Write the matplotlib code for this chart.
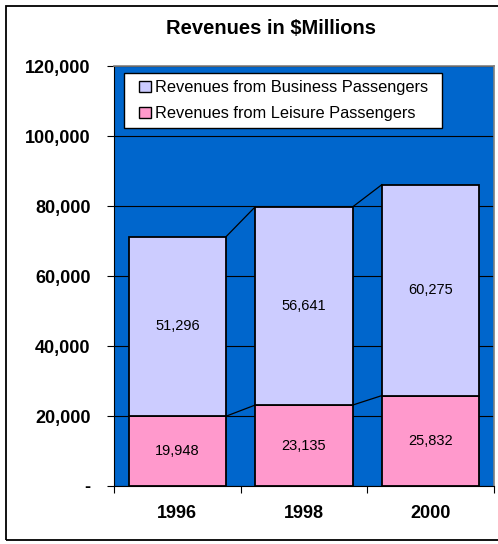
# Stacked revenue columns, business vs leisure passengers
import numpy as np
import matplotlib.pyplot as plt
from matplotlib.patches import Rectangle
from matplotlib.ticker import FuncFormatter

plt.rcParams['font.family'] = ['Liberation Sans', 'DejaVu Sans']

# data
years = ['1996', '1998', '2000']
leisure = [19948, 23135, 25832]
business = [51296, 56641, 60275]
series_names = ['Revenues from Business Passengers', 'Revenues from Leisure Passengers']

pink = '#FF99CC'
lavender = '#CCCCFF'
blue = '#0066CC'

fig = plt.figure(figsize=(4.98, 5.44), dpi=100)
ax = fig.add_axes([114/498, 1 - 486/544, 380/498, 420/544])
ax.set_facecolor(blue)

x = np.arange(len(years))
w = 0.77
leisure = np.array(leisure)
business = np.array(business)
total = leisure + business

b1 = ax.bar(x, leisure, width=w, color=pink, edgecolor='black', linewidth=1.3, zorder=3)
b2 = ax.bar(x, business, width=w, bottom=leisure, color=lavender, edgecolor='black',
            linewidth=1.3, zorder=3)

# series lines between the columns
for tops in (leisure, total):
    for i in range(len(x) - 1):
        ax.plot([x[i] + w/2, x[i+1] - w/2], [tops[i], tops[i+1]], color='black',
                lw=0.9, zorder=2)

# value labels in the middle of each segment
for i in range(len(x)):
    ax.text(x[i], leisure[i] / 2, f'{leisure[i]:,}', ha='center', va='center',
            fontsize=10.5, zorder=4)
    ax.text(x[i], leisure[i] + business[i] / 2, f'{business[i]:,}', ha='center',
            va='center', fontsize=10.5, zorder=4)

ax.set_xlim(-0.5, len(years) - 0.5)
ax.set_ylim(0, 120000)
ax.set_yticks(np.arange(0, 120001, 20000))
ax.yaxis.set_major_formatter(FuncFormatter(lambda v, p: '-' if v == 0 else f'{int(v):,}'))
ax.yaxis.grid(True, color='black', lw=0.8, zorder=1)
ax.set_axisbelow(True)

# category ticks sit on the boundaries, labels in the middle
ax.set_xticks(np.arange(-0.5, len(years)), minor=False)
ax.set_xticklabels([])
ax.set_xticks(x, minor=True)
ax.set_xticklabels(years, minor=True)
ax.tick_params(axis='x', which='minor', length=0, pad=14, labelsize=13)
ax.tick_params(axis='x', which='major', length=5, direction='out', width=0.8)
ax.tick_params(axis='y', length=5, direction='out', width=0.8, pad=12, labelsize=13)
for lab in ax.get_xticklabels(minor=True) + ax.get_yticklabels():
    lab.set_fontweight('bold')

for side in ('left', 'bottom'):
    ax.spines[side].set_color('black')
    ax.spines[side].set_linewidth(0.8)
for side in ('top', 'right'):
    ax.spines[side].set_color('#808080')
    ax.spines[side].set_linewidth(1.2)

# legend box: white panel with the entries set in from the left edge
ax.add_patch(Rectangle((0.026, 0.852), 0.837, 0.131, transform=ax.transAxes,
                       facecolor='white', edgecolor='black', lw=1.0, zorder=5))
leg = ax.legend([b2, b1], series_names, loc='center left',
                bbox_to_anchor=(0.066, 0.9175), fontsize=11.8, frameon=False,
                handlelength=0.7, handleheight=0.7, handletextpad=0.3,
                borderpad=0, labelspacing=0.65, borderaxespad=0)
leg.set_zorder(6)
for h in leg.legend_handles:
    h.set_linewidth(1.0)

fig.text(0.544, 1 - 28/544, 'Revenues in $Millions', ha='center', va='center',
         fontsize=14.5, fontweight='bold')

# outer chart frame
fig.patches.append(Rectangle((6/498, 4/544), 1.2, 1 - 10/544, transform=fig.transFigure,
                             fill=False, edgecolor='black', lw=1.3))

fig.savefig('out.png', dpi=100)
